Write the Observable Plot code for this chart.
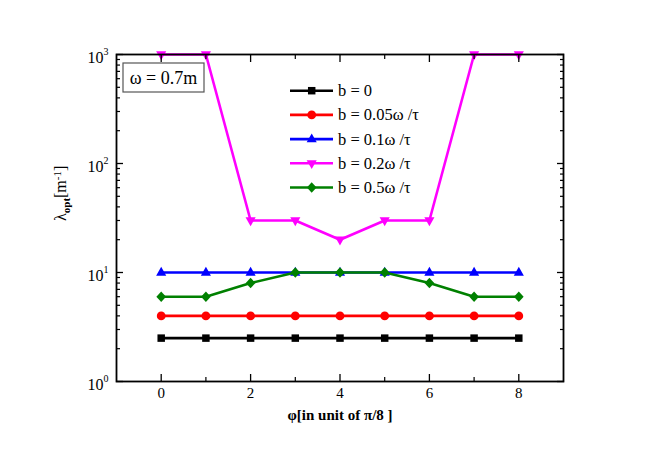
<!DOCTYPE html>
<html><head><meta charset="utf-8">
<script src="https://cdn.jsdelivr.net/npm/d3@7"></script>
<script src="https://cdn.jsdelivr.net/npm/@observablehq/plot@0.6"></script>
<style>
body{margin:0;background:#fff}
#wrap{position:relative;width:654px;height:457px;background:#fff}
#wrap svg{position:absolute;left:0;top:0}
#wrap svg text{font-family:'Liberation Serif','DejaVu Serif','Times New Roman',serif}
</style>
</head><body><div id="wrap"></div>
<script>
const phi = [0, 1, 2, 3, 4, 5, 6, 7, 8];
const seriesNames = ["b = 0", "b = 0.05ω /τ", "b = 0.1ω /τ", "b = 0.2ω /τ", "b = 0.5ω /τ"];
const b0   = [2.5, 2.5, 2.5, 2.5, 2.5, 2.5, 2.5, 2.5, 2.5];
const b005 = [4, 4, 4, 4, 4, 4, 4, 4, 4];
const b01  = [10, 10, 10, 10, 10, 10, 10, 10, 10];
const b02  = [1000, 1000, 30, 30, 20, 30, 30, 1000, 1000];
const b05  = [6, 6, 8, 10, 10, 10, 8, 6, 6];
const colors = ["#000000", "#ff0000", "#0000ff", "#ff00ff", "#008000"];
const xMajor = [0, 2, 4, 6, 8];
const xMinor = [1, 3, 5, 7];
const yMajor = [1, 10, 100, 1000];
const yExp = ["0", "1", "2", "3"];
const yMinor = [2,3,4,5,6,7,8,9,20,30,40,50,60,70,80,90,200,300,400,500,600,700,800,900];
const xLabel = "φ[in unit of π/8 ]";
const annotation = "ω = 0.7m";

const FONT = "'Liberation Serif','DejaVu Serif','Times New Roman',serif";
const R = 4.4;

const sq = {draw(c, s){const r = Math.sqrt(s/Math.PI)*0.85; c.rect(-r, -r, 2*r, 2*r);}};
const ci = {draw(c, s){const r = Math.sqrt(s/Math.PI); c.moveTo(r, 0); c.arc(0, 0, r, 0, 2*Math.PI);}};
const tu = {draw(c, s){const r = Math.sqrt(s/Math.PI); c.moveTo(0, -1.3*r); c.lineTo(1.15*r, 0.72*r); c.lineTo(-1.15*r, 0.72*r); c.closePath();}};
const td = {draw(c, s){const r = Math.sqrt(s/Math.PI); c.moveTo(0, 1.3*r); c.lineTo(1.15*r, -0.72*r); c.lineTo(-1.15*r, -0.72*r); c.closePath();}};
const di = {draw(c, s){const r = Math.sqrt(s/Math.PI); c.moveTo(0, -1.2*r); c.lineTo(1.1*r, 0); c.lineTo(0, 1.2*r); c.lineTo(-1.1*r, 0); c.closePath();}};
const symbols = [sq, ci, tu, td, di];
const seriesValues = [b0, b005, b01, b02, b05];

const seriesMarks = [];
seriesValues.forEach((vals, k) => {
  const rows = phi.map((p, i) => ({phi: p, v: vals[i]}));
  seriesMarks.push(Plot.line(rows, {x: "phi", y: "v", stroke: colors[k], strokeWidth: 2.6}));
  seriesMarks.push(Plot.dot(rows, {x: "phi", y: "v", symbol: symbols[k], r: R, fill: colors[k], stroke: "none"}));
});

const chart = Plot.plot({
  width: 654, height: 457,
  marginLeft: 116, marginRight: 91, marginTop: 54, marginBottom: 76,
  style: {fontFamily: FONT, fontSize: "16px", background: "white", overflow: "visible"},
  x: {domain: [-1, 9], label: null},
  y: {type: "log", domain: [1, 1000], label: null},
  marks: [
    ...seriesMarks,
    Plot.axisY(yMajor, {anchor: "left", tickSize: -7, fill: "none", strokeWidth: 1.3, label: null}),
    Plot.axisY(yMajor, {anchor: "right", tickSize: -7, fill: "none", strokeWidth: 1.3, label: null}),
    Plot.axisY(yMinor, {anchor: "left", tickSize: -4, fill: "none", strokeWidth: 1.2, label: null}),
    Plot.axisY(yMinor, {anchor: "right", tickSize: -4, fill: "none", strokeWidth: 1.2, label: null}),
    Plot.axisX(xMajor, {anchor: "bottom", tickSize: -7, fill: "none", strokeWidth: 1.3, label: null}),
    Plot.axisX(xMajor, {anchor: "top", tickSize: -7, fill: "none", strokeWidth: 1.3, label: null}),
    Plot.axisX(xMinor, {anchor: "bottom", tickSize: -4, fill: "none", strokeWidth: 1.2, label: null}),
    Plot.axisX(xMinor, {anchor: "top", tickSize: -4, fill: "none", strokeWidth: 1.2, label: null}),
    Plot.frame({stroke: "black", strokeWidth: 1.8}),
    Plot.text(yMajor, {y: d => d, frameAnchor: "left", text: () => "10", textAnchor: "end", dx: -13, dy: 3, fontSize: 16, fill: "black"}),
    Plot.text(yMajor, {y: d => d, frameAnchor: "left", text: (d, i) => yExp[i], textAnchor: "start", dx: -13, dy: -3, fontSize: 10, fill: "black"}),
    Plot.text(xMajor, {x: d => d, frameAnchor: "bottom", text: d => String(d), dy: 16, fontSize: 15, fill: "black"}),
    Plot.text([xLabel], {frameAnchor: "bottom", text: d => d, dy: 38, fontSize: 15, fontWeight: "bold", fill: "black"}),
    Plot.text(["λ"], {frameAnchor: "left", text: d => d, dx: -56, dy: 3, rotate: -90, fontSize: 16, fill: "black", className: "ylab"})
  ]
});
chart.setAttribute("font-family", FONT);
document.getElementById("wrap").appendChild(chart);

// y label with subscript / superscript
const yl = chart.querySelector(".ylab text");
if (yl) {
  yl.textContent = "";
  const ns = "http://www.w3.org/2000/svg";
  const parts = [["λ", 0, 16, "normal"], ["opt", 4, 11, "bold"], ["[m", -4, 16, "normal"], ["-1", -5, 11, "normal"], ["]", 5, 16, "normal"]];
  parts.forEach(([t, dy, fs, fw]) => {
    const s = document.createElementNS(ns, "tspan");
    s.setAttribute("dy", dy);
    s.setAttribute("font-size", fs);
    s.setAttribute("font-weight", fw);
    s.textContent = t;
    yl.appendChild(s);
  });
}

// legend + annotation overlay
const ov = d3.select("#wrap").append("svg")
  .attr("width", 654).attr("height", 457)
  .attr("font-family", FONT);
const lg = ov.append("g");
seriesNames.forEach((name, k) => {
  const y = 90.7 + k * 24.2;
  lg.append("line").attr("x1", 290).attr("x2", 333).attr("y1", y).attr("y2", y)
    .attr("stroke", colors[k]).attr("stroke-width", 2.6);
  lg.append("path").attr("d", d3.symbol(symbols[k], R*R*Math.PI)())
    .attr("transform", `translate(311.7,${y})`).attr("fill", colors[k]);
  lg.append("text").attr("x", 338).attr("y", y + 5.5).attr("font-size", 16.5).attr("fill", "black").text(name);
});
ov.append("rect").attr("x", 123).attr("y", 63).attr("width", 81).attr("height", 29)
  .attr("fill", "white").attr("stroke", "#555").attr("stroke-width", 1.2);
ov.append("text").attr("x", 163.5).attr("y", 83.5).attr("text-anchor", "middle")
  .attr("font-size", 18).attr("fill", "black").text(annotation);
</script>
</body></html>
